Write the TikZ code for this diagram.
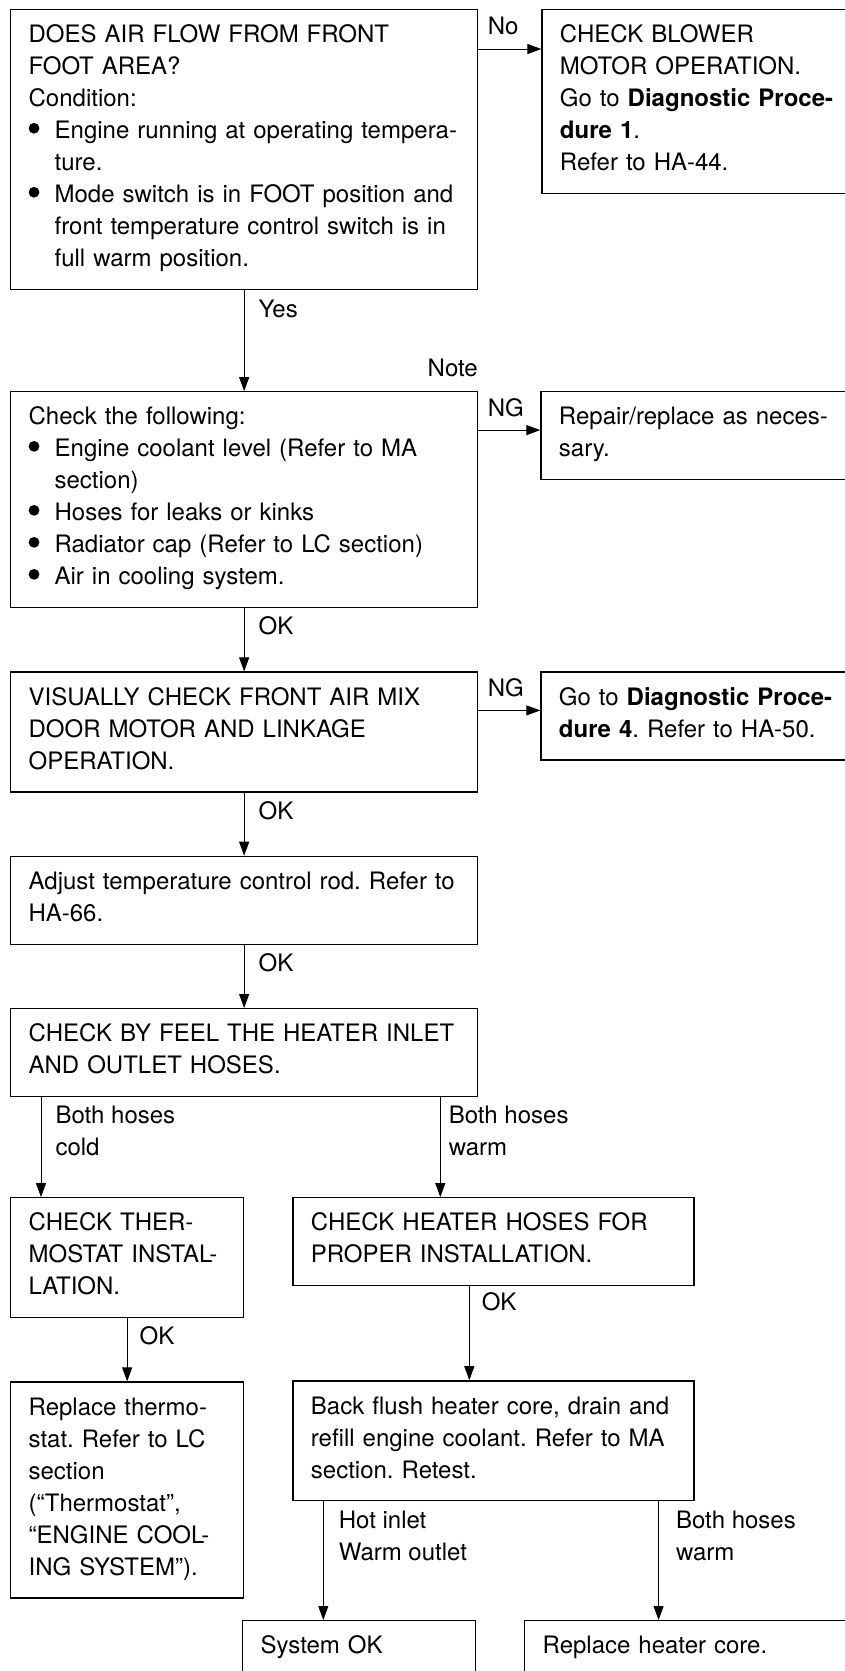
\documentclass[tikz,border=0pt]{standalone}
\usepackage{fontspec}
\setmainfont{TeX Gyre Heros}
\usetikzlibrary{positioning, arrows.meta}
\tikzstyle{chk}=[draw, rectangle, line width=.65pt, anchor=north west, align=left, inner xsep=9pt, inner ysep=8pt, text height=8.6pt, font=\fontsize{12}{16}\selectfont, execute at end node=\lst]
\tikzstyle{lbl}=[inner sep=0pt, anchor=north west, align=left, font=\fontsize{12}{16}\selectfont]
\newcommand{\dotb}{\makebox[13pt][l]{\tikz[baseline=0pt]\fill (2.7pt,5.3pt) circle (2.7pt);}}
\newcommand{\ind}{\hspace*{13pt}}
\newcommand{\lst}{\rule[-3.3pt]{0pt}{3.3pt}}
\frenchspacing

\begin{document}
\begin{tikzpicture}[x=.5pt, y=-.5pt, >={Triangle[length=7pt, width=5pt]}, line width=.5pt]
    \useasboundingbox (0,0) rectangle (845,1671);
    % left column
    \node[chk, text width=215.5pt] (air) at (10,9) {DOES AIR FLOW FROM FRONT\\FOOT AREA?\\Condition:\\
        \dotb Engine running at operating tempera-\\\ind ture.\\
        \dotb Mode switch is in FOOT position and\\\ind front temperature control switch is in\\\ind full warm position.};
    \node[chk, text width=142pt, right=31.5pt of air.north east, anchor=north west] (blower) {CHECK BLOWER\\MOTOR OPERATION.\\Go to \textbf{Diagnostic Proce-}\\\textbf{dure 1}.\\Refer to HA-44.};
    \node[chk, text width=215.5pt, below=50.5pt of air.south west, anchor=north west] (check) {Check the following:\\
        \dotb Engine coolant level (Refer to MA\\\ind section)\\
        \dotb Hoses for leaks or kinks\\
        \dotb Radiator cap (Refer to LC section)\\
        \dotb Air in cooling system.};
    \node[chk, text width=142pt, right=31pt of check.north east, anchor=north west] (repair) {Repair/replace as neces-\\sary.};
    \node[chk, text width=215.5pt, below=31.6pt of check.south west, anchor=north west] (visual) {VISUALLY CHECK FRONT AIR MIX\\DOOR MOTOR AND LINKAGE\\OPERATION.};
    \node[chk, text width=142pt, right=31pt of visual.north east, anchor=north west] (proc) {Go to \textbf{Diagnostic Proce-}\\\textbf{dure 4}. Refer to HA-50.};
    \node[chk, text width=215.5pt, below=31.6pt of visual.south west, anchor=north west] (rod) {Adjust temperature control rod. Refer to\\HA-66.};
    \node[chk, text width=215.5pt, below=31.6pt of rod.south west, anchor=north west] (feel) {CHECK BY FEEL THE HEATER INLET\\AND OUTLET HOSES.};
    % lower branches
    \node[chk, text width=98.5pt, below=50pt of feel.south west, anchor=north west] (thermo) {CHECK THER-\\MOSTAT INSTAL-\\LATION.};
    \node[chk, text width=182.5pt, right=24pt of thermo.north east, anchor=north west] (hoses) {CHECK HEATER HOSES FOR\\PROPER INSTALLATION.};
    \node[chk, text width=98.5pt, below=31.6pt of thermo.south west, anchor=north west] (replthermo) {Replace thermo-\\stat. Refer to LC\\section\\(“Thermostat”,\\“ENGINE COOL-\\ING SYSTEM”).};
    \node[chk, text width=182.5pt, below=47pt of hoses.south west, anchor=north west] (flush) {Back flush heater core, drain and\\refill engine coolant. Refer to MA\\section. Retest.};
    \node[chk, text width=98.5pt, text depth=45pt] (sysok) at (242,1620) {System OK};
    \node[chk, text width=150pt, text depth=45pt] (core) at (524,1620) {Replace heater core.};

    \node[lbl, anchor=south east] (note) at ([yshift=6.75pt]check.north east) {Note};

    \draw[->] ([yshift=-20pt]air.north east) -- node[lbl, at start, xshift=4.5pt, yshift=16.35pt] {No} ([yshift=-20pt]blower.north west);
    \draw[->] (air) -- node[lbl, at start, xshift=7pt, yshift=-4.65pt] {Yes} (check);
    \draw[->] ([yshift=-19.5pt]check.north east) -- node[lbl, at start, xshift=4.5pt, yshift=15.85pt] {NG} ([yshift=-19.5pt]repair.north west);
    \draw[->] (check) -- node[lbl, at start, xshift=7pt, yshift=-4.15pt] {OK} (visual);
    \draw[->] ([yshift=-19.5pt]visual.north east) -- node[lbl, at start, xshift=4.5pt, yshift=16.35pt] {NG} ([yshift=-19.5pt]proc.north west);
    \draw[->] (visual) -- node[lbl, at start, xshift=7pt, yshift=-4.15pt] {OK} (rod);
    \draw[->] (rod) -- node[lbl, at start, xshift=7pt, yshift=-4.15pt] {OK} (feel);

    \coordinate (cold) at ([xshift=15.5pt]feel.south west);
    \coordinate (warm) at ([xshift=-19pt]feel.south east);
    \draw[->] (cold) -- node[lbl, at start, xshift=7pt, yshift=-4.15pt] {Both hoses\\cold} (cold |- thermo.north);
    \draw[->] (warm) -- node[lbl, at start, xshift=4pt, yshift=-4.15pt] {Both hoses\\warm} (warm |- hoses.north);
    \draw[->] (thermo) -- node[lbl, at start, xshift=6pt, yshift=-4.15pt] {OK} (replthermo);

    \coordinate (hosesok) at ([xshift=88.5pt]hoses.south west);
    \draw[->] (hosesok) -- node[lbl, at start, xshift=6pt, yshift=-3.15pt] {OK} (hosesok |- flush.north);

    \coordinate (hot) at ([xshift=15.5pt]flush.south west);
    \coordinate (both) at ([xshift=-18pt]flush.south east);
    \draw[->] (hot) -- node[lbl, at start, xshift=7.5pt, yshift=-4.65pt] {Hot inlet\\Warm outlet} (hot |- sysok.north);
    \draw[->] (both) -- node[lbl, at start, xshift=8.5pt, yshift=-4.65pt] {Both hoses\\warm} (both |- core.north);
\end{tikzpicture}
\end{document}
